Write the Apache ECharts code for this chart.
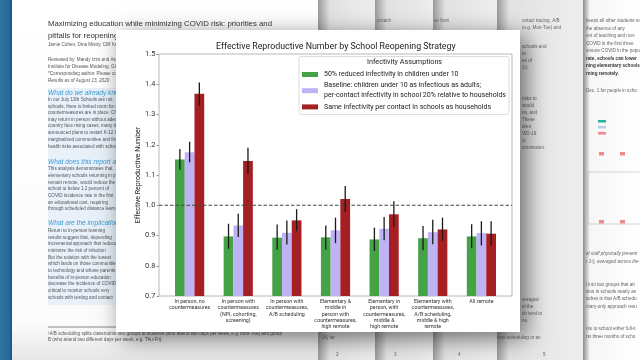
<!DOCTYPE html>
<html>
<head>
<meta charset="utf-8">
<script src="https://cdn.jsdelivr.net/npm/echarts@6/dist/echarts.min.js"></script>
<style>html,body{margin:0;padding:0;background:#e8e8e8;}#c{width:640px;height:360px;}</style>
</head>
<body>
<div id="c"></div>
<script>
// ---- data ----
const categories = [
  "In person, no\ncountermeasures",
  "In person with\ncountermeasures\n(NPI, cohorting,\nscreening)",
  "In person with\ncountermeasures,\nA/B scheduling",
  "Elementary &\nmiddle in\nperson with\ncountermeasures,\nhigh remote",
  "Elementary in\nperson, with\ncountermeasures,\nmiddle &\nhigh remote",
  "Elementary with\ncountermeasures,\nA/B scheduling,\nmiddle & high\nremote",
  "All remote"
];
const seriesNames = [
  "50% reduced infectivity in children under 10",
  "Baseline: children under 10 as infectious as adults;\nper-contact infectivity in school 20% relative to households",
  "Same infectivity per contact in schools as households"
];
const reduced     = [1.151, 0.897, 0.893, 0.894, 0.887, 0.891, 0.897];
const reducedLo   = [1.117, 0.856, 0.853, 0.854, 0.849, 0.851, 0.858];
const reducedHi   = [1.186, 0.939, 0.936, 0.933, 0.926, 0.931, 0.937];
const baseline    = [1.175, 0.933, 0.909, 0.917, 0.922, 0.911, 0.908];
const baselineLo  = [1.142, 0.895, 0.870, 0.875, 0.884, 0.871, 0.867];
const baselineHi  = [1.210, 0.972, 0.950, 0.959, 0.961, 0.952, 0.947];
const same        = [1.369, 1.146, 0.950, 1.021, 0.970, 0.920, 0.906];
const sameLo      = [1.329, 1.104, 0.914, 0.977, 0.928, 0.882, 0.867];
const sameHi      = [1.406, 1.190, 0.987, 1.064, 1.013, 0.959, 0.947];
const yTicks = [0.7, 0.8, 0.9, 1.0, 1.1, 1.2, 1.3, 1.4, 1.5];
const referenceLine = 1.0;
const chartTitle = "Effective Reproductive Number by School Reopening Strategy";
const legendTitle = "Infectivity Assumptions";
const yName = "Effective Reproductive Number";

// background document text (decoration)
const leftPageLines = [
  [24, "Maximizing education while minimizing COVID risk: priorities and", 'title'],
  [36, "pitfalls for reopening schools", 'title'],
  [45, "Jamie Cohen, Dina Mistry, Cliff Kerr, Michael Famulare, Daniel Klein", 's'],
  [60, "Reviewed by: Mandy Izzo and Assaf Oron", 's'],
  [67, "Institute for Disease Modeling, Global Health Division", 's'],
  [74, "*Corresponding author. Please contact us", 's'],
  [81, "Results as of August 13, 2020", 'i'],
  [93, "What do we already know?", 'h'],
  [100, "In our July 13th Schools are not", 's'],
  [106.5, "schools, there is limited room for error", 's'],
  [113, "countermeasures are in place. Children", 's'],
  [119.5, "may return in person without adequate", 's'],
  [126, "country face rising cases, many districts", 's'],
  [133, "announced plans to restart K-12 learning", 's'],
  [139.5, "marginalized communities and those most", 's'],
  [146.5, "health risks associated with schools", 's'],
  [162, "What does this report add?", 'h'],
  [169, "This analysis demonstrates that", 's'],
  [175.5, "elementary schools returning in person", 's'],
  [182.5, "remain remote, would reduce the", 's'],
  [189, "school to below 1.2 percent of", 's'],
  [196, "COVID incidence rate in the first", 's'],
  [202.5, "an educational cost, requiring", 's'],
  [209, "through scheduled distance learning", 's'],
  [223, "What are the implications?", 'h'],
  [231, "Return to in-person learning", 's'],
  [237.5, "results suggest that, depending", 's'],
  [244, "incremental approach that reduces", 's'],
  [251, "minimize the risk of infection", 's'],
  [257.5, "But the solution with the lowest", 's'],
  [264, "which lands on those communities", 's'],
  [271, "to technology and whose parents", 's'],
  [277.5, "benefits of in-person education", 's'],
  [284, "decrease the incidence of COVID", 's'],
  [291, "critical to monitor schools very", 's'],
  [297.5, "schools with testing and contact", 's'],
  [334, "\u00b9A/B scheduling splits classrooms into groups of students (who attend two days per week, e.g. Mon-Tue) and group", 's'],
  [339.5, "B (who attend two different days per week, e.g. Thu-Fri).", 's']
];
const rightPageLines = [
  [21, "keeps all other students remote", 's'],
  [28.5, "the absence of any", 's'],
  [36, "ent of teaching and non-", 's'],
  [43.5, "COVID in the first three", 's'],
  [51, "ensure COVID in the popu", 's'],
  [58.5, "rate, schools can lower", 'b'],
  [66, "ning elementary schools", 'b'],
  [73.5, "rning remotely.", 'b'],
  [91, "Dec. 1 for people in scho", 's'],
  [254, "al staff physically present", 'i'],
  [261.5, "r 1\u00b9), averaged across the", 'i'],
  [285, "l into two groups that att", 's'],
  [292, "sion in schools nearly as", 's'],
  [299, "aches is that A/B schedu", 's'],
  [306.5, "ntary-only approach resu", 's'],
  [329, "nts to school either full-ti", 's'],
  [336.5, "rst three months of scho", 's']
];
const midPageLines = [
  [522, 21, "ontact tracing, A/B"], [522, 28, "(e.g. Mon-Tue) and"], [522, 47, "schools and"],
  [522, 54, "et"], [522, 61, "es of"], [522, 68, "1\u00b9)."], [522, 99, "risks to"],
  [522, 106, "would"], [522, 113, "ns, and"], [522, 120, "These"], [522, 127, "dren"],
  [522, 134, "VID-19"], [522, 141, "ct"], [522, 148, "ommission."],
  [522, 300, "veraged"], [522, 307, "el the"], [522, 314, "ch tend to"], [522, 321, "ns."],
  [497, 338, "hool scheduling or an"], [377, 21, "proach"], [434, 21, "ve from"], [322, 338, "(A) for"],
  [336, 355, "2"], [394, 355, "3"], [458, 355, "4"], [543, 355, "5"]
];

const FONT = 'Roboto,"Liberation Sans",sans-serif';
const DOC = '"Liberation Sans","Open Sans",sans-serif';

// ---- background graphics ----
const bg = [];
function pageShade(x, w) {
  bg.push({type:'rect', z:-100, shape:{x:x, y:0, width:w, height:360},
    style:{fill:{type:'linear', x:0, y:0, x2:1, y2:0, colorStops:[
      {offset:0, color:'#9a9a9a'}, {offset:Math.min(0.25, 12/w), color:'#e2e2e2'}, {offset:1, color:'#eeeeee'}]}}});
}
bg.push({type:'rect', z:-100, shape:{x:0,y:0,width:640,height:360}, style:{fill:'#ececec'}});
pageShade(318, 57); pageShade(375, 58); pageShade(433, 64); pageShade(497, 86);
bg.push({type:'rect', z:-100, shape:{x:583,y:0,width:57,height:360},
  style:{fill:{type:'linear', x:0,y:0,x2:1,y2:0, colorStops:[{offset:0,color:'#8a8a8a'},{offset:0.12,color:'#f6f6f6'},{offset:1,color:'#ffffff'}]}}});
bg.push({type:'rect', z:-100, shape:{x:12,y:0,width:306,height:360},
  style:{fill:{type:'linear', x:0,y:0,x2:0,y2:1, colorStops:[{offset:0,color:'#ffffff'},{offset:0.9,color:'#fbfbfb'},{offset:1,color:'#e6e6e6'}]}}});
bg.push({type:'rect', z:-100, shape:{x:0,y:0,width:12,height:360},
  style:{fill:{type:'linear', x:0,y:0,x2:1,y2:0, colorStops:[{offset:0,color:'#2f73a3'},{offset:0.8,color:'#27679a'},{offset:1,color:'#1e4f78'}]}}});
bg.push({type:'rect', z:-100, shape:{x:48,y:88,width:240,height:217}, style:{fill:'#e8f1fa'}});
bg.push({type:'line', z:-100, shape:{x1:48,y1:327,x2:280,y2:327}, style:{stroke:'#555', lineWidth:0.7}});
leftPageLines.forEach(function(l){
  const t = l[2];
  bg.push({type:'text', z:-99, x:48, y:l[0], style:{
    text:l[1], fill: t==='h' ? '#3d9ad1' : (t==='title' ? '#333' : '#555'),
    font: (t==='i'||t==='h' ? 'italic ' : '') + (t==='title' ? '7.8px ' : (t==='h' ? '6.6px ' : '4.6px ')) + DOC,
    verticalAlign:'middle'}});
});
rightPageLines.forEach(function(l){
  bg.push({type:'text', z:-99, x:586, y:l[0], style:{text:l[1], fill: l[2]==='b' ? '#333' : '#666',
    font:(l[2]==='i' ? 'italic ' : '') + (l[2]==='b' ? 'bold ' : '') + '4.6px ' + DOC, verticalAlign:'middle'}});
});
midPageLines.forEach(function(l){
  bg.push({type:'text', z:-99, x:l[0], y:l[1], style:{text:l[2], fill:'#666', font:'4.6px ' + DOC, verticalAlign:'middle'}});
});
bg.push({type:'rect', z:-99, shape:{x:588,y:172,width:60,height:52}, style:{fill:'none', stroke:'#bbb', lineWidth:0.6}});
[['#2ab0a0',120],['#b9cde6',126],['#ee8a8a',132]].forEach(function(c){
  bg.push({type:'rect', z:-99, shape:{x:598,y:c[1],width:8,height:2.5}, style:{fill:c[0]}});
});
[[599,152],[620,152],[599,220],[620,220]].forEach(function(p){
  bg.push({type:'rect', z:-99, shape:{x:p[0],y:p[1],width:5,height:3.5}, style:{fill:'#ee8a8a'}});
});
// white chart panel
bg.push({type:'rect', z:-50, shape:{x:116,y:30,width:404,height:302},
  style:{fill:'#ffffff', shadowBlur:22, shadowColor:'rgba(0,0,0,0.55)', shadowOffsetX:6, shadowOffsetY:6}});

// ---- chart ----
const chart = echarts.init(document.getElementById('c'), null, {renderer:'canvas'});
const colors = ['#45a247', '#bfb3f6', '#a61f22'];
const values = [reduced, baseline, same];
const los = [reducedLo, baselineLo, sameLo];
const his = [reducedHi, baselineHi, sameHi];

const errData = [];
for (let s = 0; s < 3; s++) {
  for (let i = 0; i < categories.length; i++) errData.push([i, los[s][i], his[s][i], s]);
}

const barSeries = values.map(function(v, s){
  return {type:'bar', name:seriesNames[s], xAxisIndex:1, yAxisIndex:1, data:v,
    barWidth:'20%', barGap:'0%', itemStyle:{color:colors[s]}, z:3, silent:true};
});

chart.setOption({
  animation:false,
  graphic:{elements:bg},
  title:[
    {text:chartTitle, left:216, top:42, padding:0, textStyle:{fontFamily:FONT, fontSize:8.8, fontWeight:'normal', color:'#222'}},
    {text:legendTitle, left:367, top:59, padding:0, textStyle:{fontFamily:FONT, fontSize:7.2, fontWeight:'normal', color:'#222'}}
  ],
  legend:{
    data:seriesNames, orient:'vertical', left:299, top:56.5,
    padding:[13, 3, 2.5, 3], itemGap:1.2, itemWidth:16, itemHeight:5,
    icon:'rect', borderColor:'#dcdcdc', borderWidth:1, borderRadius:2, backgroundColor:'rgba(255,255,255,0.85)',
    textStyle:{fontFamily:FONT, fontSize:7.0, lineHeight:10, color:'#222', padding:[0,0,0,1]},
    selectedMode:false
  },
  grid:[
    {left:159, top:54, width:353, height:242, show:true, borderColor:'#b8b8b8', borderWidth:1, backgroundColor:'transparent'},
    {left:165.3, top:54, width:340.4, height:242}
  ],
  xAxis:[
    {type:'value', gridIndex:0, min:0, max:1, show:false},
    {type:'category', gridIndex:1, data:categories,
      axisLine:{show:false}, axisTick:{show:false},
      axisLabel:{fontFamily:FONT, fontSize:5.3, lineHeight:6.2, color:'#333', margin:2.7, interval:0}}
  ],
  yAxis:[
    {type:'value', gridIndex:0, min:yTicks[0], max:yTicks[yTicks.length-1], interval:0.1,
      axisLine:{show:false}, splitLine:{show:false},
      axisTick:{show:true, length:2.5, lineStyle:{color:'#999'}},
      axisLabel:{fontFamily:FONT, fontSize:7.4, color:'#333', margin:3.7, formatter:function(v){return v.toFixed(1);}},
      name:yName, nameLocation:'middle', nameGap:17.5, nameMoveOverlap:false,
      nameTextStyle:{fontFamily:FONT, fontSize:7, color:'#222'}},
    {type:'value', gridIndex:1, min:yTicks[0], max:yTicks[yTicks.length-1], show:false}
  ],
  series: barSeries.concat([
    {type:'line', xAxisIndex:0, yAxisIndex:0, data:[[0, referenceLine],[1, referenceLine]],
      symbol:'none', silent:true, z:4, lineStyle:{color:'#444', width:1, type:[3.5,2]}},
    {type:'custom', xAxisIndex:1, yAxisIndex:1, data:errData, z:5, silent:true,
      renderItem:function(params, api){
        const i = api.value(0);
        const bw = api.size([1, 0])[0];
        const off = (api.value(3) - 1) * bw * 0.2;
        const p1 = api.coord([i, api.value(1)]);
        const p2 = api.coord([i, api.value(2)]);
        return {type:'line', shape:{x1:p1[0]+off, y1:p1[1], x2:p2[0]+off, y2:p2[1]},
          style:{stroke:'#1a1a1a', lineWidth:1.3}};
      }}
  ])
});
</script>
</body>
</html>
